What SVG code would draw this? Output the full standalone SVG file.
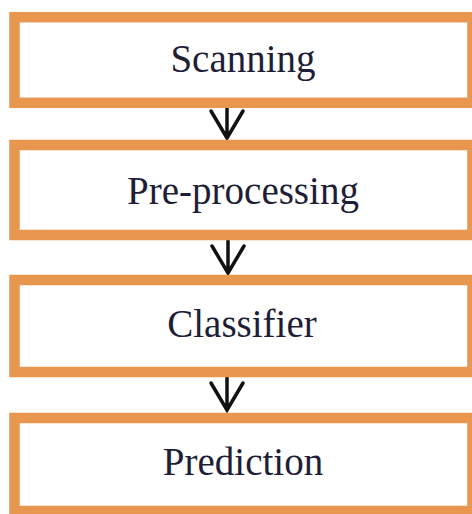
<svg xmlns="http://www.w3.org/2000/svg" width="472" height="514" viewBox="0 0 472 514">
<style>
.box{fill:#ffffff;stroke:#E9964F;stroke-width:10.5}
.lbl{font-family:"Liberation Serif","Times New Roman",serif;font-size:39px;fill:#1e1e36;text-anchor:middle}
.con{fill:none;stroke:#111111;stroke-width:3.5;stroke-linecap:round;stroke-linejoin:miter}
</style>
<rect width="472" height="514" fill="#ffffff"/>
<g id="connectors">
<path class="con" d="M227 106V138M211 111L227 138L243 111"/>
<path class="con" d="M228 239V273M212 246L228 273L244 246"/>
<path class="con" d="M227 377V410M211 383L227 410L243 383"/>
</g>
<g id="scanning">
<rect class="box" x="14.5" y="17.2" width="458" height="85.6"/>
<text class="lbl" x="243" y="72">Scanning</text>
</g>
<g id="preprocessing">
<rect class="box" x="14.5" y="145" width="458" height="90"/>
<text class="lbl" x="243" y="204">Pre-processing</text>
</g>
<g id="classifier">
<rect class="box" x="14.5" y="280" width="458" height="92"/>
<text class="lbl" x="242" y="337">Classifier</text>
</g>
<g id="prediction">
<rect class="box" x="14.5" y="418" width="458" height="93"/>
<text class="lbl" x="243" y="475">Prediction</text>
</g>
</svg>
